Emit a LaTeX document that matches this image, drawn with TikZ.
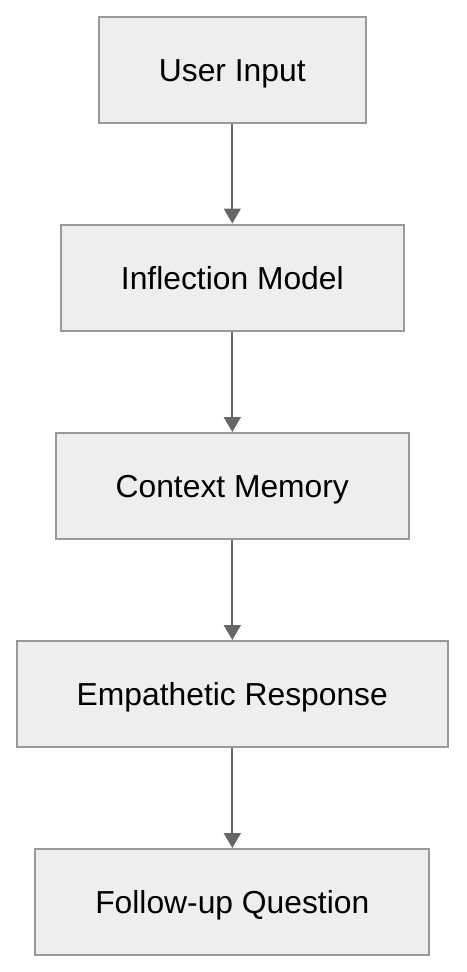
\documentclass[tikz,border=0pt]{standalone}
\usepackage{fontspec}
\setmainfont{Liberation Sans}
\usetikzlibrary{arrows.meta}
\definecolor{boxfill}{HTML}{EEEEEE}
\definecolor{boxline}{HTML}{999999}
\definecolor{arrowgray}{HTML}{666666}
\tikzset{
  flowbox/.style={draw=boxline, fill=boxfill, line width=2pt, rectangle,
    minimum height=106pt, inner xsep=60pt, text height=23pt, text depth=0pt,
    font=\fontsize{31.8}{38}\selectfont},
  flowarrow/.style={draw=arrowgray, line width=2pt,
    -{Triangle[width=17pt,length=15pt]}}
}
\begin{document}
\begin{tikzpicture}[x=1pt,y=-1pt]
	\useasboundingbox (0,0) rectangle (466,972);
	\node[flowbox] (input) at (232.3,70) {User Input};
	\node[flowbox] (inflection) at (232.3,277.5) {Inflection Model};
	\node[flowbox] (memory) at (232.3,486) {Context Memory};
	\node[flowbox] (response) at (232.3,694) {Empathetic Response};
	\node[flowbox] (followup) at (232.3,902) {Follow-up Question};
	\draw[flowarrow] (input) -- (inflection);
	\draw[flowarrow] (inflection) -- (memory);
	\draw[flowarrow] (memory) -- (response);
	\draw[flowarrow] (response) -- (followup);
\end{tikzpicture}
\end{document}
